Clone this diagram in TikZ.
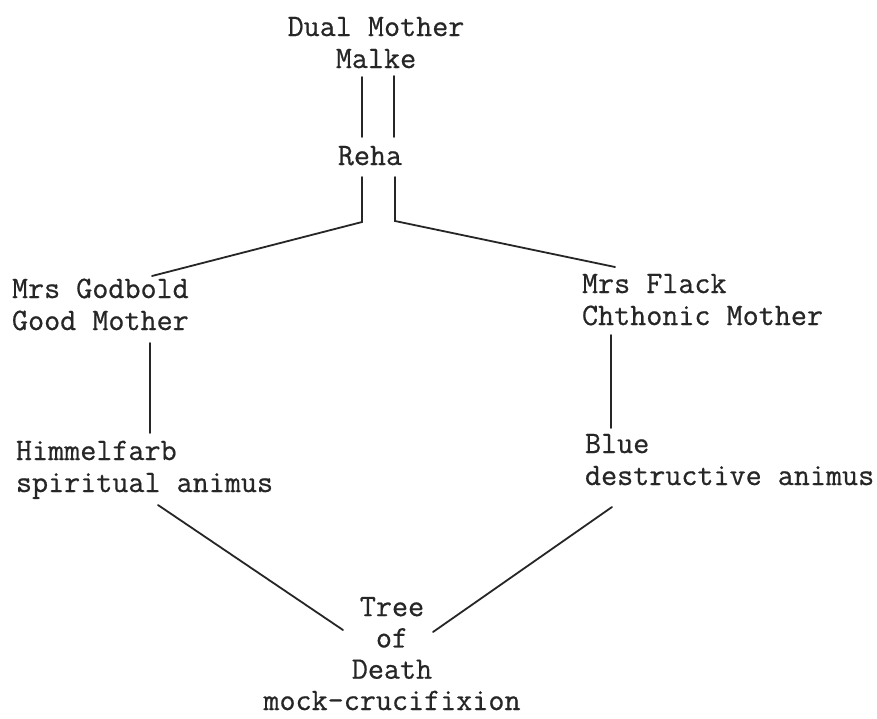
\documentclass[tikz,border=0pt]{standalone}
\usepackage{fontspec}
\setmonofont[FakeBold=0.6]{Latin Modern Mono}
\begin{document}
\begin{tikzpicture}[x=1pt,y=-1pt,
  txt/.style={inner sep=0pt, outer sep=0pt, text=black!85,
    font=\ttfamily\fontsize{31.2}{32}\selectfont},
  lbl/.style={txt, anchor=base west, align=left},
  clbl/.style={txt, anchor=base, align=center},
  link/.style={draw=black!85, line width=1.8pt, line cap=round, line join=miter}]
\useasboundingbox (0,0) rectangle (877,718);
\fill[white] (0,0) rectangle (877,718);

% texts (anchor = baseline of last line)
\node[clbl] (dual) at (376,68) {Dual Mother\\Malke};
\node[clbl] (reha) at (370,165) {Reha};
\node[lbl] (godbold) at (12,330) {Mrs Godbold\\Good Mother};
\node[lbl] (flack) at (582,325) {Mrs Flack\\Chthonic Mother};
\node[lbl] (himmel) at (16,492) {Himmelfarb\\spiritual animus};
\node[lbl] (blue) at (585,485) {Blue\\destructive animus};
\node[txt, anchor=base, align=center, font=\ttfamily\fontsize{31.2}{31.3}\selectfont] (tree) at (392,710) {Tree\\of\\Death\\mock-crucifixion};

% connector end points
\coordinate (dL1) at (362,77);
\coordinate (rL1) at (362,137);
\coordinate (dR1) at (394,76);
\coordinate (rR1) at (394,137);
\coordinate (rL2) at (362,177);
\coordinate (kL)  at (362,222);
\coordinate (gTop) at (152,276);
\coordinate (rR2) at (395,177);
\coordinate (kR)  at (395,221);
\coordinate (fTop) at (615,267);
\coordinate (gBot) at (150,343);
\coordinate (hTop) at (150,433);
\coordinate (fBot) at (611,335);
\coordinate (bTop) at (611,428);
\coordinate (hBot) at (158,505);
\coordinate (tL) at (343,630);
\coordinate (bBot) at (612,507);
\coordinate (tR) at (433,632);

% connectors
\draw[link] (dL1) -- (rL1);
\draw[link] (dR1) -- (rR1);
\draw[link] (rL2) -- (kL) -- (gTop);
\draw[link] (rR2) -- (kR) -- (fTop);
\draw[link] (gBot) -- (hTop);
\draw[link] (fBot) -- (bTop);
\draw[link] (hBot) -- (tL);
\draw[link] (bBot) -- (tR);
\end{tikzpicture}
\end{document}
